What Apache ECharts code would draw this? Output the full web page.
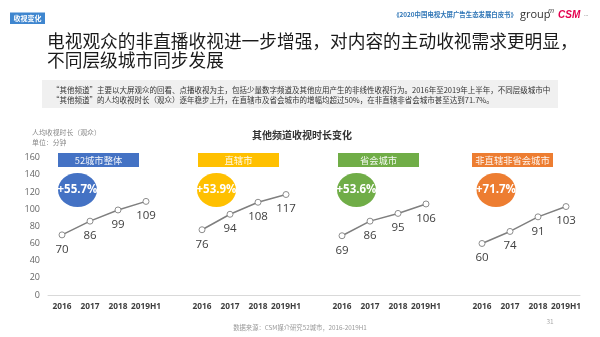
<!DOCTYPE html>
<html><head><meta charset="utf-8">
<script src="https://cdn.jsdelivr.net/npm/echarts@6/dist/echarts.min.js"></script>
<style>html,body{margin:0;padding:0;background:#fff}#c{width:600px;height:337px}</style>
</head><body><div id="c"></div>
<script>
var years = ["2016","2017","2018","2019H1"];
var groupNames = ["52城市整体","直辖市","省会城市","非直辖非省会城市"];
var groupColors = ["#4472C4","#FFC000","#70AD47","#ED7D31"];
var growth = ["+55.7%","+53.9%","+53.6%","+71.7%"];
var vAll = [70, 86, 99, 109];
var vMuni = [76, 94, 108, 117];
var vProv = [69, 86, 95, 106];
var vOther = [60, 74, 91, 103];
var yTicks = [0, 20, 40, 60, 80, 100, 120, 140, 160];

var groups = [vAll, vMuni, vProv, vOther];
var cats = [];
groups.forEach(function(g, gi){
  years.forEach(function(y){ cats.push(y); });
  if (gi < groups.length - 1) cats.push(" ".repeat(gi+1));
});
function pad(vals, gi){
  var arr = [];
  for (var i = 0; i < cats.length; i++) arr.push(null);
  vals.forEach(function(v, k){ arr[gi*5 + k] = v; });
  return arr;
}
var FONT = "'Noto Sans CJK SC','Noto Sans',sans-serif";
var NUMF = "'Open Sans','Noto Sans',sans-serif";
var series = groups.map(function(g, gi){
  return {
    type: 'line', data: pad(g, gi), connectNulls: false,
    symbol: 'circle', symbolSize: 6, showAllSymbol: true,
    lineStyle: {color: '#7f7f7f', width: 1.5},
    itemStyle: {color: '#fff', borderColor: '#8c8c8c', borderWidth: 1},
    label: {show: true, position: 'bottom', distance: 5, color: '#404040', fontSize: 11.5, fontFamily: NUMF},
    emphasis: {disabled: true}, animation: false
  };
});

var boxX = [58, 198, 338, 472];
var circX = [77.5, 216.5, 356.5, 496];
var graphic = [
  {type:'rect', shape:{x:10,y:12.5,width:35,height:11.5}, style:{fill:'#3f86cf'}},
  {type:'text', x:27.5, y:18.5, style:{text:'收视变化', fill:'#fff', font:'bold 7px '+FONT, align:'center', verticalAlign:'middle'}},
  {type:'text', x:455, y:15, style:{text:'《2020中国电视大屏广告生态发展白皮书》', fill:'#2e75b6', font:'bold 6.4px '+FONT, align:'center', verticalAlign:'middle'}},
  {type:'text', x:520, y:15, style:{text:'group', fill:'#333', font:'11px '+NUMF, verticalAlign:'middle'}},
  {type:'text', x:548, y:11, style:{text:'m', fill:'#333', font:'italic 7px '+NUMF, verticalAlign:'middle'}},
  {type:'text', x:558, y:15.5, style:{text:'CSM', fill:'#e5004f', font:'italic bold 10px Arial,sans-serif', verticalAlign:'middle'}},
  {type:'text', x:584, y:15.5, style:{text:'•••', fill:'#bbb', font:'4px sans-serif', verticalAlign:'middle'}},
  {type:'text', x:47, y:41.5, style:{text:'电视观众的非直播收视进一步增强，对内容的主动收视需求更明显，', fill:'#1a1a1a', font:'17.7px '+FONT, verticalAlign:'middle'}},
  {type:'text', x:47, y:60.5, style:{text:'不同层级城市同步发展', fill:'#1a1a1a', font:'17.7px '+FONT, verticalAlign:'middle'}},
  {type:'rect', shape:{x:42,y:80,width:516,height:28}, style:{fill:'#f0f0f0'}},
  {type:'text', x:52, y:90, style:{text:'“其他频道”主要以大屏观众的回看、点播收视为主，包括少量数字频道及其他应用产生的非线性收视行为。2016年至2019年上半年，不同层级城市中', fill:'#333', font:'7.5px '+FONT, verticalAlign:'middle'}},
  {type:'text', x:52, y:100, style:{text:'“其他频道”的人均收视时长（观众）逐年稳步上升，在直辖市及省会城市的增幅均超过50%，在非直辖非省会城市甚至达到71.7%。', fill:'#333', font:'7.5px '+FONT, verticalAlign:'middle'}},
  {type:'text', x:302, y:135, style:{text:'其他频道收视时长变化', fill:'#333', font:'bold 10px '+FONT, align:'center', verticalAlign:'middle'}},
  {type:'text', x:32, y:132, style:{text:'人均收视时长（观众）', fill:'#8a8a8a', font:'6.9px '+FONT, verticalAlign:'middle'}},
  {type:'text', x:32, y:142, style:{text:'单位：分钟', fill:'#8a8a8a', font:'6.9px '+FONT, verticalAlign:'middle'}},
  {type:'text', x:300, y:328, style:{text:'数据来源：CSM媒介研究52城市，2016-2019H1', fill:'#999', font:'6.3px '+FONT, align:'center', verticalAlign:'middle'}},
  {type:'text', x:550, y:322, style:{text:'31', fill:'#aaa', font:'6.5px '+FONT, align:'center', verticalAlign:'middle'}}
];
groupNames.forEach(function(n, i){
  graphic.push({type:'rect', shape:{x:boxX[i], y:153, width:81, height:14}, style:{fill:groupColors[i]}});
  graphic.push({type:'text', x:boxX[i]+40.5, y:160, style:{text:n, fill:'rgba(255,255,255,0.92)', font:'9.3px '+FONT, align:'center', verticalAlign:'middle'}});
  graphic.push({type:'ellipse', shape:{cx:circX[i], cy:190, rx:19.5, ry:17}, style:{fill:groupColors[i]}});
  graphic.push({type:'text', x:circX[i], y:190, style:{text:growth[i], fill:'#fff', font:'bold 11.5px '+NUMF, align:'center', verticalAlign:'middle'}, z:10});
});

var chart = echarts.init(document.getElementById('c'), null, {renderer:'canvas'});
chart.setOption({
  animation: false,
  textStyle: {fontFamily: FONT},
  grid: {left: 48, right: 20, top: 157.6, bottom: 42, containLabel: false},
  xAxis: {
    type: 'category', data: cats, boundaryGap: true,
    axisLine: {lineStyle: {color: '#d9d9d9', width: 1}},
    axisTick: {show: false},
    axisLabel: {interval: 0, color: '#404040', fontWeight: 'bold', fontSize: 8.3, margin: 8, fontFamily: NUMF}
  },
  yAxis: {
    type: 'value', min: yTicks[0], max: yTicks[yTicks.length-1], interval: 20,
    axisLine: {show: false}, axisTick: {show: false}, splitLine: {show: false},
    axisLabel: {color: '#666', fontSize: 9, margin: 8, fontFamily: NUMF}
  },
  series: series,
  graphic: graphic
});
</script></body></html>
